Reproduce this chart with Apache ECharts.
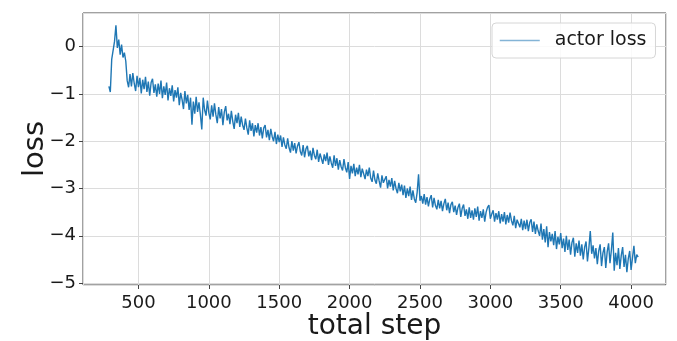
<!DOCTYPE html>
<html>
<head>
<meta charset="utf-8">
<script src="https://cdn.jsdelivr.net/npm/echarts@6/dist/echarts.min.js"></script>
<style>
html,body{margin:0;padding:0;background:#fff;}
#chart{width:677px;height:341px;}
</style>
</head>
<body>
<div id="chart"></div>
<script>
// total step of the first sample and spacing between samples
const stepStart = 290;
const stepSize = 10;
// actor loss values, one per sample
const actorLoss = [
  -0.84, -0.96, -0.27, -0.24, 0.11, 0.45, -0.03, 0.15, -0.17, 0.04,
  -0.23, -0.13, -0.31, -0.72, -0.86, -0.58, -0.84, -0.56, -0.78, -0.94,
  -0.62, -0.86, -0.66, -0.99, -0.70, -0.90, -0.64, -0.96, -0.74, -1.04,
  -0.76, -0.68, -0.98, -0.80, -1.06, -0.78, -1.00, -0.72, -1.09, -0.84,
  -1.02, -0.76, -1.14, -0.88, -1.04, -0.82, -1.16, -0.92, -1.08, -0.86,
  -1.24, -0.98, -1.12, -1.32, -0.94, -1.20, -1.02, -1.34, -1.08, -1.65,
  -1.16, -1.42, -1.06, -1.38, -1.18, -1.44, -1.75, -1.08, -1.34, -1.46,
  -1.14, -1.40, -1.54, -1.24, -1.48, -1.20, -1.44, -1.62, -1.28, -1.52,
  -1.32, -1.66, -1.38, -1.26, -1.56, -1.42, -1.64, -1.36, -1.58, -1.74,
  -1.44, -1.62, -1.40, -1.70, -1.48, -1.66, -1.76, -1.52, -1.72, -1.86,
  -1.56, -1.78, -1.62, -1.90, -1.66, -1.82, -1.62, -1.88, -1.70, -1.94,
  -1.72, -1.66, -1.92, -1.76, -1.98, -1.74, -1.90, -2.00, -1.80, -2.06,
  -1.86, -2.02, -1.88, -2.12, -1.92, -2.08, -2.16, -1.94, -2.14, -2.24,
  -2.00, -2.20, -2.04, -2.26, -2.10, -2.02, -2.22, -2.30, -2.08, -2.34,
  -2.16, -2.10, -2.32, -2.20, -2.40, -2.14, -2.30, -2.38, -2.18, -2.44,
  -2.26, -2.22, -2.48, -2.28, -2.42, -2.24, -2.50, -2.32, -2.46, -2.56,
  -2.30, -2.52, -2.36, -2.60, -2.40, -2.54, -2.62, -2.38, -2.56, -2.66,
  -2.44, -2.80, -2.52, -2.68, -2.48, -2.74, -2.56, -2.70, -2.50, -2.76,
  -2.58, -2.54, -2.80, -2.60, -2.74, -2.56, -2.78, -2.86, -2.62, -2.82,
  -2.90, -2.68, -2.84, -2.98, -2.72, -2.88, -2.92, -2.74, -3.00, -2.82,
  -2.96, -2.78, -3.04, -2.84, -3.00, -3.10, -2.88, -3.06, -2.92, -3.14,
  -2.94, -3.20, -3.00, -3.16, -2.96, -3.24, -3.04, -3.22, -3.30, -3.08,
  -2.70, -3.26, -3.16, -3.32, -3.12, -3.34, -3.18, -3.38, -3.22, -3.14,
  -3.40, -3.20, -3.36, -3.44, -3.24, -3.42, -3.26, -3.48, -3.32, -3.22,
  -3.46, -3.30, -3.52, -3.34, -3.28, -3.50, -3.36, -3.56, -3.40, -3.32,
  -3.60, -3.42, -3.34, -3.58, -3.44, -3.64, -3.40, -3.62, -3.46, -3.66,
  -3.42, -3.60, -3.38, -3.68, -3.48, -3.62, -3.44, -3.70, -3.50, -3.40,
  -3.35, -3.64, -3.54, -3.46, -3.70, -3.52, -3.66, -3.48, -3.74, -3.54,
  -3.70, -3.50, -3.76, -3.56, -3.72, -3.51, -3.68, -3.78, -3.58, -3.84,
  -3.66, -3.62, -3.82, -3.64, -3.88, -3.68, -3.86, -3.66, -3.90, -3.72,
  -3.65, -3.92, -3.70, -3.96, -3.76, -3.90, -4.00, -3.74, -4.08, -3.86,
  -4.14, -3.80, -4.24, -3.92, -4.12, -3.96, -4.20, -3.90, -4.28, -4.02,
  -4.18, -3.94, -4.26, -4.06, -4.34, -4.00, -4.30, -4.08, -4.40, -4.14,
  -4.04, -4.44, -4.16, -4.36, -4.10, -4.42, -4.18, -4.50, -4.24, -4.12,
  -4.54, -4.26, -3.90, -4.38, -4.20, -4.48, -4.26, -4.60, -4.32, -4.18,
  -4.64, -4.36, -4.24, -4.68, -4.34, -4.16, -4.58, -4.30, -3.93, -4.74,
  -4.36, -4.62, -4.26, -4.70, -4.42, -4.24, -4.66, -4.40, -4.77, -4.48,
  -4.32, -4.72, -4.46, -4.21, -4.58, -4.40, -4.45
];
const seriesName = 'actor loss';
const xTitle = 'total step';
const yTitle = 'loss';
const xRange = [106, 4248];
const yRange = [-5.04, 0.71];

const points = actorLoss.map((v, i) => [stepStart + i * stepSize, v]);
const FONT = '"DejaVu Sans", sans-serif';
const chart = echarts.init(document.getElementById('chart'), null, {renderer: 'canvas'});
chart.setOption({
  animation: false,
  backgroundColor: '#ffffff',
  grid: {left: 83, right: 11, top: 13, bottom: 56, containLabel: false, outerBoundsMode: 'none',
    show: true, borderColor: '#444', borderWidth: 1, backgroundColor: 'transparent'},
  legend: {
    data: [seriesName], left: 492, top: 23, orient: 'vertical',
    padding: [8, 9, 8, 7], itemWidth: 40, itemHeight: 12,
    backgroundColor: 'rgba(255,255,255,0.85)', borderColor: '#d6d6d6', borderWidth: 1, borderRadius: 4,
    textStyle: {fontFamily: FONT, fontSize: 19, color: '#1a1a1a', padding: [0, 0, 0, 10]},
    itemStyle: {opacity: 0},
    lineStyle: {opacity: 0.55, width: 1.5}
  },
  xAxis: {
    type: 'value', min: xRange[0], max: xRange[1], splitNumber: 8,
    name: xTitle, nameLocation: 'middle', nameGap: 28, nameMoveOverlap: false,
    nameTextStyle: {fontFamily: FONT, fontSize: 28, color: '#1a1a1a'},
    axisLine: {show: false, onZero: false},
    axisTick: {show: true, length: 4, lineStyle: {color: '#444'}},
    axisLabel: {fontFamily: FONT, fontSize: 18, color: '#1a1a1a', margin: 9, showMinLabel: false, showMaxLabel: false,
      formatter: v => (v % 500 === 0 ? String(v) : '')},
    splitLine: {show: true, lineStyle: {color: '#dcdcdc', width: 1}}
  },
  yAxis: {
    type: 'value', min: yRange[0], max: yRange[1], splitNumber: 6,
    name: yTitle, nameLocation: 'middle', nameGap: 33, nameRotate: 90, nameMoveOverlap: false,
    nameTextStyle: {fontFamily: FONT, fontSize: 29, color: '#1a1a1a'},
    axisLine: {show: false, onZero: false},
    axisTick: {show: true, length: 4, lineStyle: {color: '#444'}},
    axisLabel: {fontFamily: FONT, fontSize: 18, color: '#1a1a1a', margin: 7, showMinLabel: false, showMaxLabel: false,
      formatter: v => (Number.isInteger(v) ? String(v).replace('-', '\u2212') : '')},
    splitLine: {show: true, lineStyle: {color: '#dcdcdc', width: 1}}
  },
  series: [{
    name: seriesName, type: 'line', data: points, showSymbol: false, symbol: 'none',
    lineStyle: {color: '#1f77b4', width: 1.4}, itemStyle: {color: '#1f77b4'}
  }]
});
</script>
</body>
</html>
